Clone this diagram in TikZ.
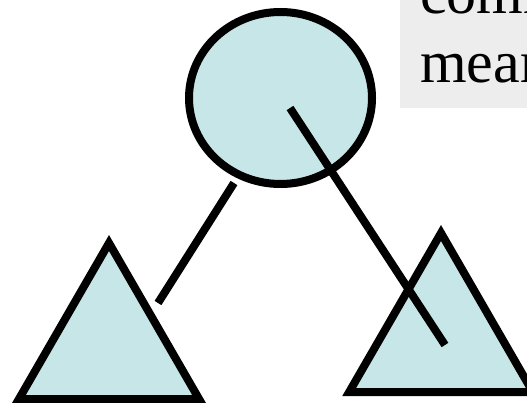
\documentclass[tikz,border=0pt]{standalone}
\usepackage{fontspec}
\setmainfont{Liberation Serif}
\usetikzlibrary{shapes.geometric}
\definecolor{treefill}{RGB}{198,230,232}
\definecolor{notegray}{RGB}{237,237,237}

\begin{document}
\begin{tikzpicture}[
  x=1pt, y=-1pt,
  root/.style={
    draw,
    ellipse,
    line width=8pt,
    fill=treefill,
    minimum width=183pt,
    minimum height=172pt,
    inner sep=0pt
  },
  subtree/.style={
    draw,
    regular polygon,
    regular polygon sides=3,
    line width=8pt,
    fill=treefill,
    inner sep=0pt
  },
  edge/.style={line width=8pt},
  note/.style={font=\fontsize{60}{71}\selectfont, inner sep=0pt, anchor=base west}
]
\useasboundingbox (0,0) rectangle (527,403);
\clip (0,0) rectangle (527,403);

\fill[notegray] (400,-10) rectangle (540,108);
\node[note] (line1) at (420,14) {comm};
\node[note] (line2) at (420,83) {mear};

\node[root] (top) at (280.5,98) {};
\node[subtree, minimum size=208pt] (left) at (109,347) {};
\node[subtree, minimum size=212pt] (right) at (441,339) {};

\coordinate (lstart) at (234,183);
\coordinate (lend) at (158,303);
\coordinate (rstart) at (290,108);
\coordinate (rend) at (445,345);

\draw[edge] (lstart) -- (lend);
\draw[edge] (rstart) -- (rend);

\end{tikzpicture}
\end{document}
